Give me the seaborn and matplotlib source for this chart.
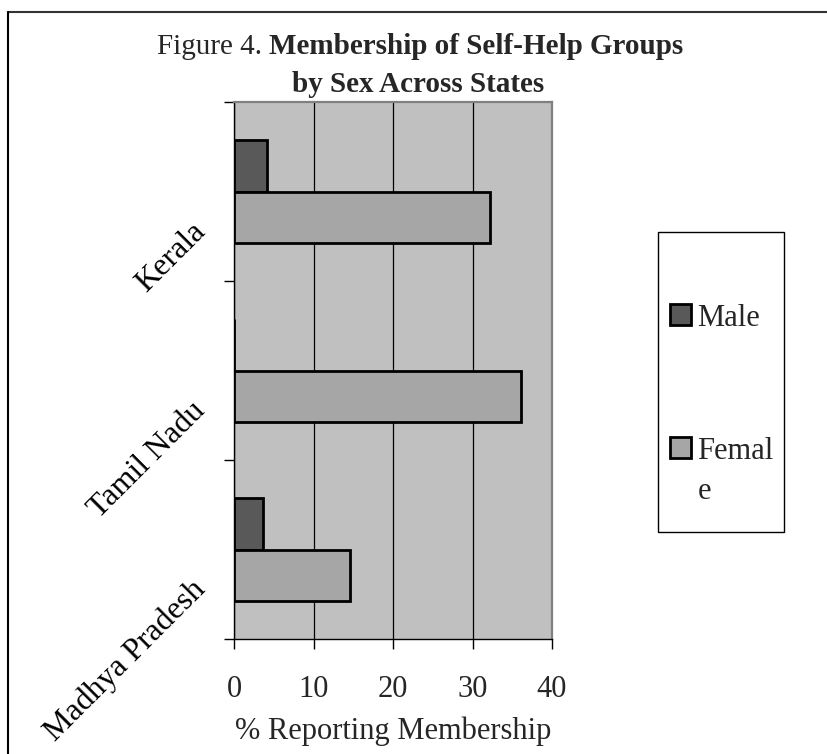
import matplotlib
matplotlib.use("Agg")
import matplotlib.pyplot as plt
import matplotlib.transforms as mtransforms
from matplotlib.patches import Patch, Rectangle
from matplotlib.lines import Line2D
import pandas as pd
import seaborn as sns

# Share of respondents reporting self-help group membership (%)
states = ["Kerala", "Tamil Nadu", "Madhya Pradesh"]
male = [4.2, 0.0, 3.6]
female = [32.2, 36.1, 14.6]
sexes = ["Male", "Female"]
legend_labels = ["Male", "Femal\ne"]
x_ticks = [0, 10, 20, 30, 40]
colors = {"Male": "#595959", "Female": "#a6a6a6"}

df = pd.DataFrame({
    "State": states * 2,
    "Sex": ["Male"] * len(states) + ["Female"] * len(states),
    "Pct": male + female,
})

sns.set_theme(style="white")
plt.rcParams["font.family"] = ["Liberation Serif", "DejaVu Serif"]

W, H = 827, 754
fig = plt.figure(figsize=(W / 100, H / 100), dpi=100)
fig.patch.set_facecolor("white")


def fx(px):
    return px / W


def fy(py):
    return 1 - py / H


ax = fig.add_axes([fx(234), fy(639), fx(552) - fx(234), fy(102) - fy(639)])
ax.set_facecolor("#c0c0c0")
ax.set_axisbelow(True)

sns.barplot(
    data=df, x="Pct", y="State", hue="Sex", order=states, hue_order=sexes,
    palette=colors, orient="h", width=0.57, edgecolor="black", linewidth=2,
    saturation=1, legend=False, ax=ax,
)

ax.set_xlim(0, 40)
ax.set_ylim(2.5, -0.5)
ax.set_xticks(x_ticks)
ax.set_xticklabels([str(t) for t in x_ticks], fontsize=22)
ax.set_yticks([-0.5, 0.5, 1.5, 2.5])
ax.set_yticklabels([])
ax.xaxis.grid(True, color="black", linewidth=0.9)
ax.yaxis.grid(False)
ax.tick_params(axis="x", direction="out", length=7, width=1, color="black",
               pad=19, bottom=True)
ax.tick_params(axis="y", direction="out", length=7, width=1, color="black",
               left=True)
ax.set_xlabel("% Reporting Membership", fontsize=22, labelpad=9)
ax.set_ylabel("")

for side in ("left", "bottom"):
    ax.spines[side].set_color("black")
    ax.spines[side].set_linewidth(1)
for side in ("top", "right"):
    ax.spines[side].set_color("#808080")
    ax.spines[side].set_linewidth(1.6)

# Rotated state names next to the category axis
offset = mtransforms.ScaledTranslation(-33 / 100, -36 / 100, fig.dpi_scale_trans)
for i, name in enumerate(states):
    ax.text(0, i, name, transform=ax.get_yaxis_transform() + offset,
            rotation=45, rotation_mode="anchor", ha="right", va="center",
            fontsize=23, color="black")

# Legend
handles = [Patch(facecolor=colors[s], edgecolor="black", linewidth=2) for s in sexes]
leg = fig.legend(
    handles, legend_labels, frameon=False, loc="upper left",
    bbox_to_anchor=(fx(670), fy(304)), fontsize=22, handlelength=0.7,
    handleheight=0.7, handletextpad=0.2, labelspacing=3.4, borderpad=0,
    borderaxespad=0,
)
for col in leg._legend_handle_box.get_children():
    for row in col.get_children():
        row.align = "top"
for txt in leg.get_texts():
    txt.set_linespacing(1.5)
fig.add_artist(Rectangle((fx(658), fy(532)), fx(784) - fx(658), fy(232) - fy(532),
                         transform=fig.transFigure, fill=False,
                         edgecolor="black", linewidth=1))

# Outer frame (top and left edges)
fig.add_artist(Line2D([fx(8), 1], [fy(12), fy(12)], transform=fig.transFigure,
                      color="#333333", linewidth=1.5))
fig.add_artist(Line2D([fx(8), fx(8)], [fy(12), 0], transform=fig.transFigure,
                      color="black", linewidth=1.5))

# Two-line title with a regular lead-in and bold remainder
fig.canvas.draw()
r = fig.canvas.get_renderer()
t1a = fig.text(0, fy(47), "Figure 4. ", fontsize=21, va="center", ha="left")
t1b = fig.text(0, fy(47), "Membership of Self-Help Groups", fontsize=21,
               fontweight="bold", va="center", ha="left")
w1a = t1a.get_window_extent(r).width
w1b = t1b.get_window_extent(r).width
cx1 = 420
x0 = cx1 - (w1a + w1b) / 2
t1a.set_x(fx(x0))
t1b.set_x(fx(x0 + w1a))
fig.text(fx(418), fy(85), "by Sex Across States", fontsize=21,
         fontweight="bold", va="center", ha="center")

fig.savefig("out.png", dpi=100, facecolor="white")
